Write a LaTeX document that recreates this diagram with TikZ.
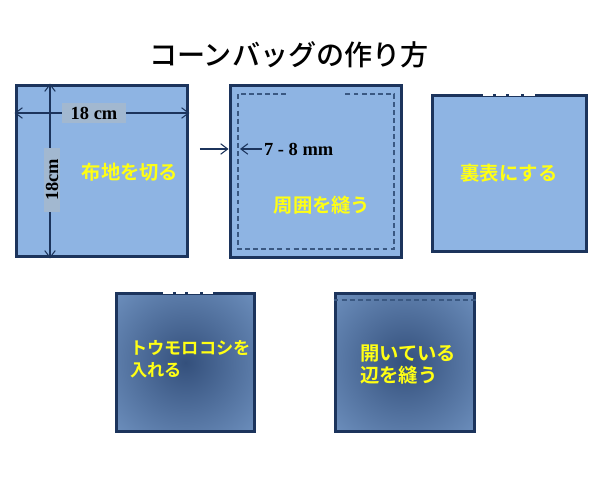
\documentclass[tikz,border=0pt]{standalone}
\usepackage{fontspec}
\setmainfont{Liberation Serif}
\newfontfamily\jpfont{Noto Sans CJK JP}[BoldFont={Noto Sans CJK JP Bold}]
\newfontfamily\jptitlefont{Noto Sans CJK JP Medium}
\usetikzlibrary{arrows.meta}

\definecolor{boxblue}{RGB}{142,180,227}
\definecolor{edgeblue}{RGB}{28,52,92}
\definecolor{stitchblue}{RGB}{58,88,130}
\definecolor{glowdark}{RGB}{52,80,124}
\definecolor{tagblue}{RGB}{162,184,208}
\definecolor{cornyellow}{RGB}{255,255,20}
\pgfdeclareradialshading{pocketglow}{\pgfpoint{0bp}{0bp}}{color(0bp)=(glowdark); color(50bp)=(boxblue!88!glowdark); color(71bp)=(boxblue)}

\begin{document}
\begin{tikzpicture}[x=0.02cm, y=-0.02cm,
    pocket/.style={draw=edgeblue, line width=1.7pt, fill=boxblue, inner sep=0pt},
    glowpocket/.style={draw=edgeblue, line width=1.7pt, shading=pocketglow, inner sep=0pt},
    howto/.style={text=cornyellow, font=\jpfont\bfseries\fontsize{11pt}{12.5pt}\selectfont},
    dimtag/.style={fill=tagblue, inner sep=2pt, font=\bfseries\fontsize{10.5pt}{12pt}\selectfont},
    dimline/.style={edgeblue, line width=0.6pt, {Straight Barb[length=4pt,width=6pt]}-{Straight Barb[length=4pt,width=6pt]}},
    stitch/.style={stitchblue, line width=0.6pt, dash pattern=on 2.8pt off 1.8pt}]
    \fill[white] (0,0) rectangle (600,500);
    \useasboundingbox (0,0) rectangle (600,500);

    \node[font=\jptitlefont\fontsize{16pt}{18pt}\selectfont] (title) at (289,55) {コーンバッグの作り方};

    % cut the cloth
    \node[pocket, minimum width=3.44cm, minimum height=3.44cm] (cut) at (102,171) {};
    \draw[dimline] (cut.west |- 0,113) -- (cut.east |- 0,113);
    \draw[dimline] (cut.north -| 50,0) -- (cut.south -| 50,0);
    \node[dimtag, inner xsep=5pt] (width) at (94,113) {18 cm};
    \node[dimtag, rotate=90, inner xsep=6pt, inner ysep=1pt] (height) at (52,180) {18cm};
    \node[howto] (cuttext) at (130,172) {布地を切る};

    % sew round the edge
    \node[pocket, minimum width=3.44cm, minimum height=3.46cm] (sew) at (316,171.5) {};
    \draw[stitch] (286,94) -- (238,94) -- (238,249) -- (394,249) -- (394,94) -- (345,94);
    \node[anchor=west, inner sep=1pt, font=\bfseries\fontsize{10.5pt}{12pt}\selectfont] (seam) at (262,149) {7 - 8 mm};
    \coordinate (seamtip) at (240,149);
    \coordinate (seamfrom) at (200,149);
    \draw[edgeblue, line width=0.6pt, -{Straight Barb[length=4pt,width=6pt]}] (seam.west) -- (seamtip);
    \draw[edgeblue, line width=0.6pt, -{Straight Barb[length=4pt,width=6pt]}] (seamfrom) -- (sew.west |- seamfrom);
    \node[howto] (sewtext) at (322,205) {周囲を縫う};

    % turn inside out
    \node[pocket, minimum width=3.1cm, minimum height=3.14cm] (turn) at (509.5,173.5) {};
    \fill[white] (483,92) rectangle (535,95.8);
    \foreach \x in {495,508,523}
        \fill[edgeblue] (\x-1.5,93.6) rectangle (\x+1.5,96.4);
    \node[howto] (turntext) at (509,173) {裏表にする};

    % fill with corn
    \node[glowpocket, minimum width=2.78cm, minimum height=2.78cm] (fill) at (185.5,362.5) {};
    \fill[white] (163,290) rectangle (213,293.8);
    \foreach \x in {175,187,202}
        \fill[edgeblue] (\x-1.5,291.6) rectangle (\x+1.5,294.4);
    \node[howto, anchor=west, align=left, font=\jpfont\bfseries\fontsize{9.8pt}{12.5pt}\selectfont] (filltext) at (124,359) {トウモロコシを\\入れる};

    % close the opening
    \node[glowpocket, minimum width=2.8cm, minimum height=2.78cm] (close) at (405,362.5) {};
    \draw[stitch] (close.west |- 0,300) -- (close.east |- 0,300);
    \node[howto, anchor=west, align=left] (closetext) at (354,365) {開いている\\辺を縫う};
\end{tikzpicture}
\end{document}
